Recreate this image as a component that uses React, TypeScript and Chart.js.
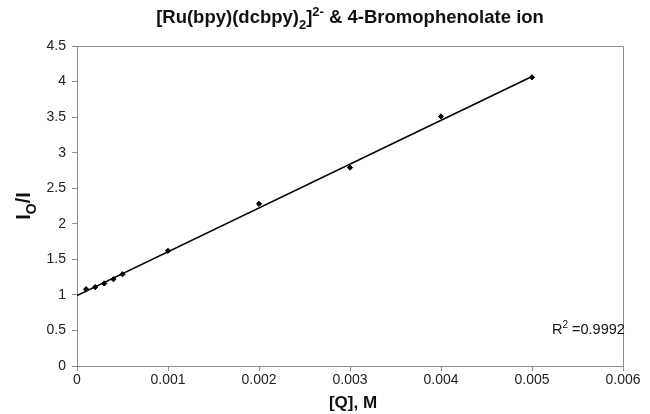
import React, { useEffect, useRef } from "react";
import { Chart, registerables } from "chart.js";

Chart.register(...registerables);

const concX = [0.0001, 0.0002, 0.0003, 0.0004, 0.0005, 0.001, 0.002, 0.003, 0.004, 0.005];
const ratioY = [1.08, 1.11, 1.16, 1.22, 1.29, 1.62, 2.28, 2.79, 3.51, 4.06];
const trendX = [0, 0.005];
const trendY = [0.99, 4.07];
const xTicks = [0, 0.001, 0.002, 0.003, 0.004, 0.005, 0.006];
const yTicks = [0, 0.5, 1, 1.5, 2, 2.5, 3, 3.5, 4, 4.5];
const rSquared = "0.9992";

const FONT = "'Liberation Sans', Arial, Helvetica, sans-serif";

type Part = { t: string; s?: "sup" | "sub" };

function drawRich(ctx: CanvasRenderingContext2D, parts: Part[], x: number, y: number, size: number, weight: string, align: "center" | "left") {
  const small = Math.round(size * 0.7);
  const widths = parts.map((p) => {
    ctx.font = `${weight} ${p.s ? small : size}px ${FONT}`;
    return ctx.measureText(p.t).width;
  });
  const total = widths.reduce((a, b) => a + b, 0);
  let cx = align === "center" ? x - total / 2 : x;
  ctx.textAlign = "left";
  ctx.textBaseline = "alphabetic";
  parts.forEach((p, i) => {
    ctx.font = `${weight} ${p.s ? small : size}px ${FONT}`;
    const dy = p.s === "sup" ? -size * 0.4 : p.s === "sub" ? size * 0.3 : 0;
    ctx.fillText(p.t, cx, y + dy);
    cx += widths[i];
  });
}

const annotPlugin = {
  id: "annot",
  afterDraw(chart: any) {
    const ctx = chart.ctx as CanvasRenderingContext2D;
    const a = chart.chartArea;
    ctx.save();
    ctx.strokeStyle = "#8c8c8c";
    ctx.lineWidth = 1;
    ctx.beginPath();
    ctx.moveTo(a.left, a.top + 0.5);
    ctx.lineTo(a.right + 0.5, a.top + 0.5);
    ctx.lineTo(a.right + 0.5, a.bottom);
    ctx.stroke();
    ctx.fillStyle = "#111";
    drawRich(ctx, [
      { t: "[Ru(bpy)(dcbpy)" },
      { t: "2", s: "sub" },
      { t: "]" },
      { t: "2-", s: "sup" },
      { t: " & 4-Bromophenolate ion" },
    ], 350, 23, 18.5, "bold", "center");
    drawRich(ctx, [{ t: "[Q], M" }], 353, 408, 17, "bold", "center");
    drawRich(ctx, [{ t: "R" }, { t: "2", s: "sup" }, { t: " =" + rSquared }], 552, 334, 14.5, "normal", "left");
    ctx.translate(30, 206);
    ctx.rotate(-Math.PI / 2);
    drawRich(ctx, [{ t: "I" }, { t: "O", s: "sub" }, { t: "/I" }], 0, 0, 20, "bold", "center");
    ctx.restore();
  },
};

export default function App() {
  const ref = useRef<HTMLCanvasElement>(null);
  useEffect(() => {
    if (!ref.current) return;
    const chart = new Chart(ref.current, {
      type: "scatter",
      data: {
        datasets: [
          {
            data: concX.map((x, i) => ({ x, y: ratioY[i] })),
            pointStyle: "rectRot",
            pointRadius: 2.6,
            backgroundColor: "#000",
            borderColor: "#000",
            showLine: false,
          },
          {
            data: trendX.map((x, i) => ({ x, y: trendY[i] })),
            showLine: true,
            pointRadius: 0,
            borderColor: "#000",
            borderWidth: 1.6,
          },
        ],
      },
      options: {
        animation: false,
        responsive: false,
        events: [],
        layout: { padding: { left: 0, right: 27, top: 46, bottom: 0 } },
        plugins: { legend: { display: false }, tooltip: { enabled: false } },
        scales: {
          x: {
            type: "linear",
            min: 0,
            max: 0.006,
            afterBuildTicks: (s: any) => { s.ticks = xTicks.map((v) => ({ value: v })); },
            afterFit: (s: any) => { s.height = 48; },
            ticks: {
              color: "#222",
              font: { family: FONT, size: 14 },
              padding: 1,
              maxRotation: 0,
              callback: (v: any) => String(v),
            },
            grid: { display: true, drawOnChartArea: false, drawTicks: true, tickLength: 5, color: "#8c8c8c" },
            border: { display: true, color: "#8c8c8c" },
          },
          y: {
            type: "linear",
            min: 0,
            max: 4.5,
            afterBuildTicks: (s: any) => { s.ticks = yTicks.map((v) => ({ value: v })); },
            afterFit: (s: any) => { s.width = 77; },
            ticks: {
              color: "#222",
              font: { family: FONT, size: 14 },
              padding: 6,
              callback: (v: any) => String(v),
            },
            grid: { display: true, drawOnChartArea: false, drawTicks: true, tickLength: 5, color: "#8c8c8c" },
            border: { display: true, color: "#8c8c8c" },
          },
        },
      },
      plugins: [annotPlugin],
    });
    return () => chart.destroy();
  }, []);
  return (
    <div style={{ position: "fixed", left: 0, top: 0, width: 650, height: 414, background: "#fff" }}>
      <canvas ref={ref} width={650} height={414} style={{ display: "block" }} />
    </div>
  );
}
